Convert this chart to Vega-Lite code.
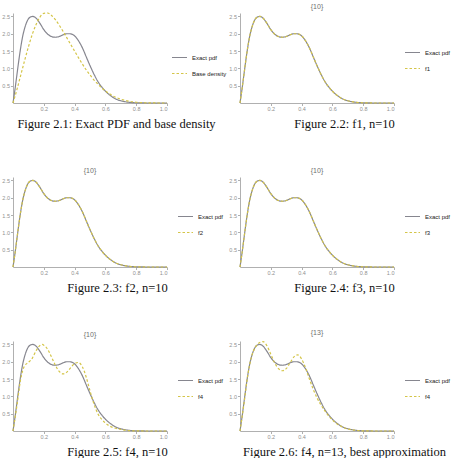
{
  "$schema": "https://vega.github.io/schema/vega-lite/v6.json",
  "padding": {"left": 1, "top": 3, "right": 0, "bottom": 0},
  "columns": 2,
  "bounds": "flush",
  "spacing": {"row": 74, "column": 73},
  "resolve": {
    "scale": {"color": "independent", "strokeDash": "independent"},
    "legend": {"color": "independent", "strokeDash": "independent"}
  },
  "datasets": {
    "exact": [
      {"x": 0, "y": 0, "s": "Exact pdf"}, {"x": 0.0125, "y": 0.38, "s": "Exact pdf"}, {"x": 0.025, "y": 0.8, "s": "Exact pdf"},
      {"x": 0.0375, "y": 1.22, "s": "Exact pdf"}, {"x": 0.05, "y": 1.6, "s": "Exact pdf"}, {"x": 0.0625, "y": 1.92, "s": "Exact pdf"},
      {"x": 0.075, "y": 2.15, "s": "Exact pdf"}, {"x": 0.0875, "y": 2.32, "s": "Exact pdf"}, {"x": 0.1, "y": 2.43, "s": "Exact pdf"},
      {"x": 0.115, "y": 2.49, "s": "Exact pdf"}, {"x": 0.13, "y": 2.5, "s": "Exact pdf"}, {"x": 0.15, "y": 2.45, "s": "Exact pdf"},
      {"x": 0.175, "y": 2.3, "s": "Exact pdf"}, {"x": 0.2, "y": 2.12, "s": "Exact pdf"}, {"x": 0.225, "y": 1.99, "s": "Exact pdf"},
      {"x": 0.25, "y": 1.92, "s": "Exact pdf"}, {"x": 0.275, "y": 1.9, "s": "Exact pdf"}, {"x": 0.3, "y": 1.92, "s": "Exact pdf"},
      {"x": 0.325, "y": 1.97, "s": "Exact pdf"}, {"x": 0.35, "y": 2.0, "s": "Exact pdf"}, {"x": 0.37, "y": 2.0, "s": "Exact pdf"},
      {"x": 0.4, "y": 1.94, "s": "Exact pdf"}, {"x": 0.425, "y": 1.8, "s": "Exact pdf"}, {"x": 0.45, "y": 1.6, "s": "Exact pdf"},
      {"x": 0.475, "y": 1.34, "s": "Exact pdf"}, {"x": 0.5, "y": 1.08, "s": "Exact pdf"}, {"x": 0.525, "y": 0.84, "s": "Exact pdf"},
      {"x": 0.55, "y": 0.63, "s": "Exact pdf"}, {"x": 0.575, "y": 0.47, "s": "Exact pdf"}, {"x": 0.6, "y": 0.34, "s": "Exact pdf"},
      {"x": 0.625, "y": 0.24, "s": "Exact pdf"}, {"x": 0.65, "y": 0.16, "s": "Exact pdf"}, {"x": 0.675, "y": 0.1, "s": "Exact pdf"},
      {"x": 0.7, "y": 0.065, "s": "Exact pdf"}, {"x": 0.725, "y": 0.04, "s": "Exact pdf"}, {"x": 0.75, "y": 0.022, "s": "Exact pdf"},
      {"x": 0.8, "y": 0.006, "s": "Exact pdf"}, {"x": 0.85, "y": 0.001, "s": "Exact pdf"}, {"x": 0.9, "y": 0, "s": "Exact pdf"},
      {"x": 1.0, "y": 0, "s": "Exact pdf"}
    ],
    "base": [
      {"x": 0, "y": 0, "s": "Base density"}, {"x": 0.025, "y": 0.38, "s": "Base density"}, {"x": 0.05, "y": 0.8, "s": "Base density"},
      {"x": 0.075, "y": 1.22, "s": "Base density"}, {"x": 0.1, "y": 1.62, "s": "Base density"}, {"x": 0.125, "y": 1.98, "s": "Base density"},
      {"x": 0.15, "y": 2.27, "s": "Base density"}, {"x": 0.175, "y": 2.48, "s": "Base density"}, {"x": 0.2, "y": 2.59, "s": "Base density"},
      {"x": 0.225, "y": 2.6, "s": "Base density"}, {"x": 0.25, "y": 2.53, "s": "Base density"}, {"x": 0.275, "y": 2.41, "s": "Base density"},
      {"x": 0.3, "y": 2.25, "s": "Base density"}, {"x": 0.325, "y": 2.07, "s": "Base density"}, {"x": 0.35, "y": 1.88, "s": "Base density"},
      {"x": 0.375, "y": 1.69, "s": "Base density"}, {"x": 0.4, "y": 1.5, "s": "Base density"}, {"x": 0.425, "y": 1.31, "s": "Base density"},
      {"x": 0.45, "y": 1.13, "s": "Base density"}, {"x": 0.475, "y": 0.96, "s": "Base density"}, {"x": 0.5, "y": 0.81, "s": "Base density"},
      {"x": 0.525, "y": 0.67, "s": "Base density"}, {"x": 0.55, "y": 0.55, "s": "Base density"}, {"x": 0.575, "y": 0.44, "s": "Base density"},
      {"x": 0.6, "y": 0.35, "s": "Base density"}, {"x": 0.625, "y": 0.27, "s": "Base density"}, {"x": 0.65, "y": 0.2, "s": "Base density"},
      {"x": 0.675, "y": 0.15, "s": "Base density"}, {"x": 0.7, "y": 0.11, "s": "Base density"}, {"x": 0.75, "y": 0.055, "s": "Base density"},
      {"x": 0.8, "y": 0.022, "s": "Base density"}, {"x": 0.85, "y": 0.007, "s": "Base density"}, {"x": 0.9, "y": 0.002, "s": "Base density"},
      {"x": 1.0, "y": 0, "s": "Base density"}
    ],
    "f1": [
      {"x": 0, "y": 0, "s": "f1"}, {"x": 0.0125, "y": 0.38, "s": "f1"}, {"x": 0.025, "y": 0.8, "s": "f1"},
      {"x": 0.0375, "y": 1.22, "s": "f1"}, {"x": 0.05, "y": 1.6, "s": "f1"}, {"x": 0.0625, "y": 1.92, "s": "f1"},
      {"x": 0.075, "y": 2.15, "s": "f1"}, {"x": 0.0875, "y": 2.32, "s": "f1"}, {"x": 0.1, "y": 2.43, "s": "f1"},
      {"x": 0.115, "y": 2.49, "s": "f1"}, {"x": 0.13, "y": 2.5, "s": "f1"}, {"x": 0.15, "y": 2.45, "s": "f1"},
      {"x": 0.175, "y": 2.3, "s": "f1"}, {"x": 0.2, "y": 2.12, "s": "f1"}, {"x": 0.225, "y": 1.99, "s": "f1"},
      {"x": 0.25, "y": 1.92, "s": "f1"}, {"x": 0.275, "y": 1.9, "s": "f1"}, {"x": 0.3, "y": 1.92, "s": "f1"},
      {"x": 0.325, "y": 1.97, "s": "f1"}, {"x": 0.35, "y": 2.0, "s": "f1"}, {"x": 0.37, "y": 2.0, "s": "f1"},
      {"x": 0.4, "y": 1.94, "s": "f1"}, {"x": 0.425, "y": 1.8, "s": "f1"}, {"x": 0.45, "y": 1.6, "s": "f1"},
      {"x": 0.475, "y": 1.34, "s": "f1"}, {"x": 0.5, "y": 1.08, "s": "f1"}, {"x": 0.525, "y": 0.84, "s": "f1"},
      {"x": 0.55, "y": 0.63, "s": "f1"}, {"x": 0.575, "y": 0.47, "s": "f1"}, {"x": 0.6, "y": 0.34, "s": "f1"},
      {"x": 0.625, "y": 0.24, "s": "f1"}, {"x": 0.65, "y": 0.16, "s": "f1"}, {"x": 0.675, "y": 0.1, "s": "f1"},
      {"x": 0.7, "y": 0.065, "s": "f1"}, {"x": 0.725, "y": 0.04, "s": "f1"}, {"x": 0.75, "y": 0.022, "s": "f1"},
      {"x": 0.8, "y": 0.006, "s": "f1"}, {"x": 0.85, "y": 0.001, "s": "f1"}, {"x": 0.9, "y": 0, "s": "f1"},
      {"x": 1.0, "y": 0, "s": "f1"}
    ],
    "f2": [
      {"x": 0, "y": 0, "s": "f2"}, {"x": 0.0125, "y": 0.38, "s": "f2"}, {"x": 0.025, "y": 0.8, "s": "f2"},
      {"x": 0.0375, "y": 1.22, "s": "f2"}, {"x": 0.05, "y": 1.6, "s": "f2"}, {"x": 0.0625, "y": 1.92, "s": "f2"},
      {"x": 0.075, "y": 2.15, "s": "f2"}, {"x": 0.0875, "y": 2.32, "s": "f2"}, {"x": 0.1, "y": 2.43, "s": "f2"},
      {"x": 0.115, "y": 2.49, "s": "f2"}, {"x": 0.13, "y": 2.5, "s": "f2"}, {"x": 0.15, "y": 2.45, "s": "f2"},
      {"x": 0.175, "y": 2.3, "s": "f2"}, {"x": 0.2, "y": 2.12, "s": "f2"}, {"x": 0.225, "y": 1.99, "s": "f2"},
      {"x": 0.25, "y": 1.92, "s": "f2"}, {"x": 0.275, "y": 1.9, "s": "f2"}, {"x": 0.3, "y": 1.92, "s": "f2"},
      {"x": 0.325, "y": 1.97, "s": "f2"}, {"x": 0.35, "y": 2.0, "s": "f2"}, {"x": 0.37, "y": 2.0, "s": "f2"},
      {"x": 0.4, "y": 1.94, "s": "f2"}, {"x": 0.425, "y": 1.8, "s": "f2"}, {"x": 0.45, "y": 1.6, "s": "f2"},
      {"x": 0.475, "y": 1.34, "s": "f2"}, {"x": 0.5, "y": 1.08, "s": "f2"}, {"x": 0.525, "y": 0.84, "s": "f2"},
      {"x": 0.55, "y": 0.63, "s": "f2"}, {"x": 0.575, "y": 0.47, "s": "f2"}, {"x": 0.6, "y": 0.34, "s": "f2"},
      {"x": 0.625, "y": 0.24, "s": "f2"}, {"x": 0.65, "y": 0.16, "s": "f2"}, {"x": 0.675, "y": 0.1, "s": "f2"},
      {"x": 0.7, "y": 0.065, "s": "f2"}, {"x": 0.725, "y": 0.04, "s": "f2"}, {"x": 0.75, "y": 0.022, "s": "f2"},
      {"x": 0.8, "y": 0.006, "s": "f2"}, {"x": 0.85, "y": 0.001, "s": "f2"}, {"x": 0.9, "y": 0, "s": "f2"},
      {"x": 1.0, "y": 0, "s": "f2"}
    ],
    "f3": [
      {"x": 0, "y": 0, "s": "f3"}, {"x": 0.0125, "y": 0.38, "s": "f3"}, {"x": 0.025, "y": 0.8, "s": "f3"},
      {"x": 0.0375, "y": 1.22, "s": "f3"}, {"x": 0.05, "y": 1.6, "s": "f3"}, {"x": 0.0625, "y": 1.92, "s": "f3"},
      {"x": 0.075, "y": 2.15, "s": "f3"}, {"x": 0.0875, "y": 2.32, "s": "f3"}, {"x": 0.1, "y": 2.43, "s": "f3"},
      {"x": 0.115, "y": 2.49, "s": "f3"}, {"x": 0.13, "y": 2.5, "s": "f3"}, {"x": 0.15, "y": 2.45, "s": "f3"},
      {"x": 0.175, "y": 2.3, "s": "f3"}, {"x": 0.2, "y": 2.12, "s": "f3"}, {"x": 0.225, "y": 1.99, "s": "f3"},
      {"x": 0.25, "y": 1.92, "s": "f3"}, {"x": 0.275, "y": 1.9, "s": "f3"}, {"x": 0.3, "y": 1.92, "s": "f3"},
      {"x": 0.325, "y": 1.97, "s": "f3"}, {"x": 0.35, "y": 2.0, "s": "f3"}, {"x": 0.37, "y": 2.0, "s": "f3"},
      {"x": 0.4, "y": 1.94, "s": "f3"}, {"x": 0.425, "y": 1.8, "s": "f3"}, {"x": 0.45, "y": 1.6, "s": "f3"},
      {"x": 0.475, "y": 1.34, "s": "f3"}, {"x": 0.5, "y": 1.08, "s": "f3"}, {"x": 0.525, "y": 0.84, "s": "f3"},
      {"x": 0.55, "y": 0.63, "s": "f3"}, {"x": 0.575, "y": 0.47, "s": "f3"}, {"x": 0.6, "y": 0.34, "s": "f3"},
      {"x": 0.625, "y": 0.24, "s": "f3"}, {"x": 0.65, "y": 0.16, "s": "f3"}, {"x": 0.675, "y": 0.1, "s": "f3"},
      {"x": 0.7, "y": 0.065, "s": "f3"}, {"x": 0.725, "y": 0.04, "s": "f3"}, {"x": 0.75, "y": 0.022, "s": "f3"},
      {"x": 0.8, "y": 0.006, "s": "f3"}, {"x": 0.85, "y": 0.001, "s": "f3"}, {"x": 0.9, "y": 0, "s": "f3"},
      {"x": 1.0, "y": 0, "s": "f3"}
    ],
    "f4a": [
      {"x": 0, "y": 0, "s": "f4"}, {"x": 0.025, "y": 0.72, "s": "f4"}, {"x": 0.05, "y": 1.5, "s": "f4"},
      {"x": 0.075, "y": 1.88, "s": "f4"}, {"x": 0.1, "y": 1.98, "s": "f4"}, {"x": 0.125, "y": 2.1, "s": "f4"},
      {"x": 0.15, "y": 2.32, "s": "f4"}, {"x": 0.175, "y": 2.47, "s": "f4"}, {"x": 0.19, "y": 2.5, "s": "f4"},
      {"x": 0.2, "y": 2.48, "s": "f4"}, {"x": 0.225, "y": 2.36, "s": "f4"}, {"x": 0.25, "y": 2.14, "s": "f4"},
      {"x": 0.275, "y": 1.9, "s": "f4"}, {"x": 0.3, "y": 1.72, "s": "f4"}, {"x": 0.325, "y": 1.65, "s": "f4"},
      {"x": 0.35, "y": 1.7, "s": "f4"}, {"x": 0.375, "y": 1.83, "s": "f4"}, {"x": 0.4, "y": 1.95, "s": "f4"},
      {"x": 0.425, "y": 1.98, "s": "f4"}, {"x": 0.45, "y": 1.86, "s": "f4"}, {"x": 0.475, "y": 1.56, "s": "f4"},
      {"x": 0.5, "y": 1.16, "s": "f4"}, {"x": 0.525, "y": 0.79, "s": "f4"}, {"x": 0.55, "y": 0.51, "s": "f4"},
      {"x": 0.575, "y": 0.34, "s": "f4"}, {"x": 0.6, "y": 0.23, "s": "f4"}, {"x": 0.625, "y": 0.15, "s": "f4"},
      {"x": 0.65, "y": 0.1, "s": "f4"}, {"x": 0.7, "y": 0.045, "s": "f4"}, {"x": 0.75, "y": 0.012, "s": "f4"},
      {"x": 0.8, "y": 0.002, "s": "f4"}, {"x": 0.9, "y": 0, "s": "f4"}, {"x": 1.0, "y": 0, "s": "f4"}
    ],
    "f4b": [
      {"x": 0, "y": 0, "s": "f4"}, {"x": 0.025, "y": 0.76, "s": "f4"}, {"x": 0.05, "y": 1.6, "s": "f4"},
      {"x": 0.075, "y": 2.15, "s": "f4"}, {"x": 0.1, "y": 2.42, "s": "f4"}, {"x": 0.125, "y": 2.55, "s": "f4"},
      {"x": 0.15, "y": 2.58, "s": "f4"}, {"x": 0.175, "y": 2.46, "s": "f4"}, {"x": 0.2, "y": 2.22, "s": "f4"},
      {"x": 0.225, "y": 1.97, "s": "f4"}, {"x": 0.25, "y": 1.8, "s": "f4"}, {"x": 0.275, "y": 1.74, "s": "f4"},
      {"x": 0.3, "y": 1.8, "s": "f4"}, {"x": 0.325, "y": 1.97, "s": "f4"}, {"x": 0.35, "y": 2.14, "s": "f4"},
      {"x": 0.375, "y": 2.2, "s": "f4"}, {"x": 0.4, "y": 2.08, "s": "f4"}, {"x": 0.425, "y": 1.83, "s": "f4"},
      {"x": 0.45, "y": 1.51, "s": "f4"}, {"x": 0.475, "y": 1.21, "s": "f4"}, {"x": 0.5, "y": 0.96, "s": "f4"},
      {"x": 0.525, "y": 0.76, "s": "f4"}, {"x": 0.55, "y": 0.59, "s": "f4"}, {"x": 0.575, "y": 0.44, "s": "f4"},
      {"x": 0.6, "y": 0.32, "s": "f4"}, {"x": 0.625, "y": 0.22, "s": "f4"}, {"x": 0.65, "y": 0.15, "s": "f4"},
      {"x": 0.675, "y": 0.095, "s": "f4"}, {"x": 0.7, "y": 0.06, "s": "f4"}, {"x": 0.75, "y": 0.02, "s": "f4"},
      {"x": 0.8, "y": 0.004, "s": "f4"}, {"x": 0.9, "y": 0, "s": "f4"}, {"x": 1.0, "y": 0, "s": "f4"}
    ]
  },
  "concat": [
    {
      "width": 154, "height": 90,
      "encoding": {
        "x": {"field": "x", "type": "quantitative", "scale": {"domain": [0, 1], "nice": false}, "axis": {"values": [0.2, 0.4, 0.6, 0.8, 1.0], "format": ".1f", "title": "Figure 2.1: Exact PDF and base density", "titleX": 103}},
        "y": {"field": "y", "type": "quantitative", "scale": {"domain": [0, 2.6], "nice": false}, "axis": {"values": [0.5, 1, 1.5, 2, 2.5], "format": ".1f", "title": null}},
        "color": {"field": "s", "type": "nominal", "scale": {"domain": ["Exact pdf", "Base density"], "range": ["#86868f", "#d4c548"]}, "legend": {"title": null, "orient": "none", "legendX": 158, "legendY": 36}},
        "strokeDash": {"field": "s", "type": "nominal", "scale": {"domain": ["Exact pdf", "Base density"], "range": [[1, 0], [2.5, 2]]}, "legend": {"title": null, "orient": "none", "legendX": 158, "legendY": 36}}
      },
      "layer": [
        {"data": {"name": "exact"}, "mark": {"type": "line", "interpolate": "monotone"}},
        {"data": {"name": "base"}, "mark": {"type": "line", "interpolate": "monotone"}}
      ]
    },
    {
      "title": "{10}",
      "width": 154, "height": 90,
      "encoding": {
        "x": {"field": "x", "type": "quantitative", "scale": {"domain": [0, 1], "nice": false}, "axis": {"values": [0.2, 0.4, 0.6, 0.8, 1.0], "format": ".1f", "title": "Figure 2.2: f1, n=10", "titleX": 104}},
        "y": {"field": "y", "type": "quantitative", "scale": {"domain": [0, 2.6], "nice": false}, "axis": {"values": [0.5, 1, 1.5, 2, 2.5], "format": ".1f", "title": null}},
        "color": {"field": "s", "type": "nominal", "scale": {"domain": ["Exact pdf", "f1"], "range": ["#86868f", "#d4c548"]}, "legend": {"title": null, "orient": "none", "legendX": 164, "legendY": 31}},
        "strokeDash": {"field": "s", "type": "nominal", "scale": {"domain": ["Exact pdf", "f1"], "range": [[1, 0], [2.5, 2]]}, "legend": {"title": null, "orient": "none", "legendX": 164, "legendY": 31}}
      },
      "layer": [
        {"data": {"name": "exact"}, "mark": {"type": "line", "interpolate": "monotone"}},
        {"data": {"name": "f1"}, "mark": {"type": "line", "interpolate": "monotone"}}
      ]
    },
    {
      "title": "{10}",
      "width": 154, "height": 90,
      "encoding": {
        "x": {"field": "x", "type": "quantitative", "scale": {"domain": [0, 1], "nice": false}, "axis": {"values": [0.2, 0.4, 0.6, 0.8, 1.0], "format": ".1f", "title": "Figure 2.3: f2, n=10", "titleX": 104}},
        "y": {"field": "y", "type": "quantitative", "scale": {"domain": [0, 2.6], "nice": false}, "axis": {"values": [0.5, 1, 1.5, 2, 2.5], "format": ".1f", "title": null}},
        "color": {"field": "s", "type": "nominal", "scale": {"domain": ["Exact pdf", "f2"], "range": ["#86868f", "#d4c548"]}, "legend": {"title": null, "orient": "none", "legendX": 164, "legendY": 31}},
        "strokeDash": {"field": "s", "type": "nominal", "scale": {"domain": ["Exact pdf", "f2"], "range": [[1, 0], [2.5, 2]]}, "legend": {"title": null, "orient": "none", "legendX": 164, "legendY": 31}}
      },
      "layer": [
        {"data": {"name": "exact"}, "mark": {"type": "line", "interpolate": "monotone"}},
        {"data": {"name": "f2"}, "mark": {"type": "line", "interpolate": "monotone"}}
      ]
    },
    {
      "title": "{10}",
      "width": 154, "height": 90,
      "encoding": {
        "x": {"field": "x", "type": "quantitative", "scale": {"domain": [0, 1], "nice": false}, "axis": {"values": [0.2, 0.4, 0.6, 0.8, 1.0], "format": ".1f", "title": "Figure 2.4: f3, n=10", "titleX": 104}},
        "y": {"field": "y", "type": "quantitative", "scale": {"domain": [0, 2.6], "nice": false}, "axis": {"values": [0.5, 1, 1.5, 2, 2.5], "format": ".1f", "title": null}},
        "color": {"field": "s", "type": "nominal", "scale": {"domain": ["Exact pdf", "f3"], "range": ["#86868f", "#d4c548"]}, "legend": {"title": null, "orient": "none", "legendX": 164, "legendY": 31}},
        "strokeDash": {"field": "s", "type": "nominal", "scale": {"domain": ["Exact pdf", "f3"], "range": [[1, 0], [2.5, 2]]}, "legend": {"title": null, "orient": "none", "legendX": 164, "legendY": 31}}
      },
      "layer": [
        {"data": {"name": "exact"}, "mark": {"type": "line", "interpolate": "monotone"}},
        {"data": {"name": "f3"}, "mark": {"type": "line", "interpolate": "monotone"}}
      ]
    },
    {
      "title": "{10}",
      "width": 154, "height": 90,
      "encoding": {
        "x": {"field": "x", "type": "quantitative", "scale": {"domain": [0, 1], "nice": false}, "axis": {"values": [0.2, 0.4, 0.6, 0.8, 1.0], "format": ".1f", "title": "Figure 2.5: f4, n=10", "titleX": 104}},
        "y": {"field": "y", "type": "quantitative", "scale": {"domain": [0, 2.6], "nice": false}, "axis": {"values": [0.5, 1, 1.5, 2, 2.5], "format": ".1f", "title": null}},
        "color": {"field": "s", "type": "nominal", "scale": {"domain": ["Exact pdf", "f4"], "range": ["#86868f", "#d4c548"]}, "legend": {"title": null, "orient": "none", "legendX": 164, "legendY": 31}},
        "strokeDash": {"field": "s", "type": "nominal", "scale": {"domain": ["Exact pdf", "f4"], "range": [[1, 0], [2.5, 2]]}, "legend": {"title": null, "orient": "none", "legendX": 164, "legendY": 31}}
      },
      "layer": [
        {"data": {"name": "exact"}, "mark": {"type": "line", "interpolate": "monotone"}},
        {"data": {"name": "f4a"}, "mark": {"type": "line", "interpolate": "monotone"}}
      ]
    },
    {
      "title": "{13}",
      "width": 154, "height": 90,
      "encoding": {
        "x": {"field": "x", "type": "quantitative", "scale": {"domain": [0, 1], "nice": false}, "axis": {"values": [0.2, 0.4, 0.6, 0.8, 1.0], "format": ".1f", "title": "Figure 2.6: f4, n=13, best approximation", "titleX": 104}},
        "y": {"field": "y", "type": "quantitative", "scale": {"domain": [0, 2.6], "nice": false}, "axis": {"values": [0.5, 1, 1.5, 2, 2.5], "format": ".1f", "title": null}},
        "color": {"field": "s", "type": "nominal", "scale": {"domain": ["Exact pdf", "f4"], "range": ["#86868f", "#d4c548"]}, "legend": {"title": null, "orient": "none", "legendX": 164, "legendY": 31}},
        "strokeDash": {"field": "s", "type": "nominal", "scale": {"domain": ["Exact pdf", "f4"], "range": [[1, 0], [2.5, 2]]}, "legend": {"title": null, "orient": "none", "legendX": 164, "legendY": 31}}
      },
      "layer": [
        {"data": {"name": "exact"}, "mark": {"type": "line", "interpolate": "monotone"}},
        {"data": {"name": "f4b"}, "mark": {"type": "line", "interpolate": "monotone"}}
      ]
    }
  ],
  "config": {
    "view": {"stroke": null},
    "line": {"strokeWidth": 1.2},
    "axis": {
      "grid": false,
      "labelFont": "Liberation Sans", "labelFontSize": 5.5, "labelColor": "#909090", "labelPadding": 1,
      "domainColor": "#b0b0b0", "tickColor": "#b0b0b0", "tickSize": 2.5,
      "titleFont": "Liberation Serif", "titleFontSize": 12.5, "titleFontWeight": "normal", "titleColor": "#111", "titlePadding": 5
    },
    "title": {"font": "Liberation Sans", "fontSize": 7, "fontWeight": "normal", "color": "#707070", "offset": 3, "frame": "group", "anchor": "middle"},
    "legend": {
      "labelFont": "Liberation Sans", "labelFontSize": 6, "labelColor": "#222", "labelOffset": 4,
      "symbolType": "stroke", "symbolSize": 225, "symbolStrokeWidth": 1.2, "rowPadding": 4, "padding": 0
    }
  }
}
